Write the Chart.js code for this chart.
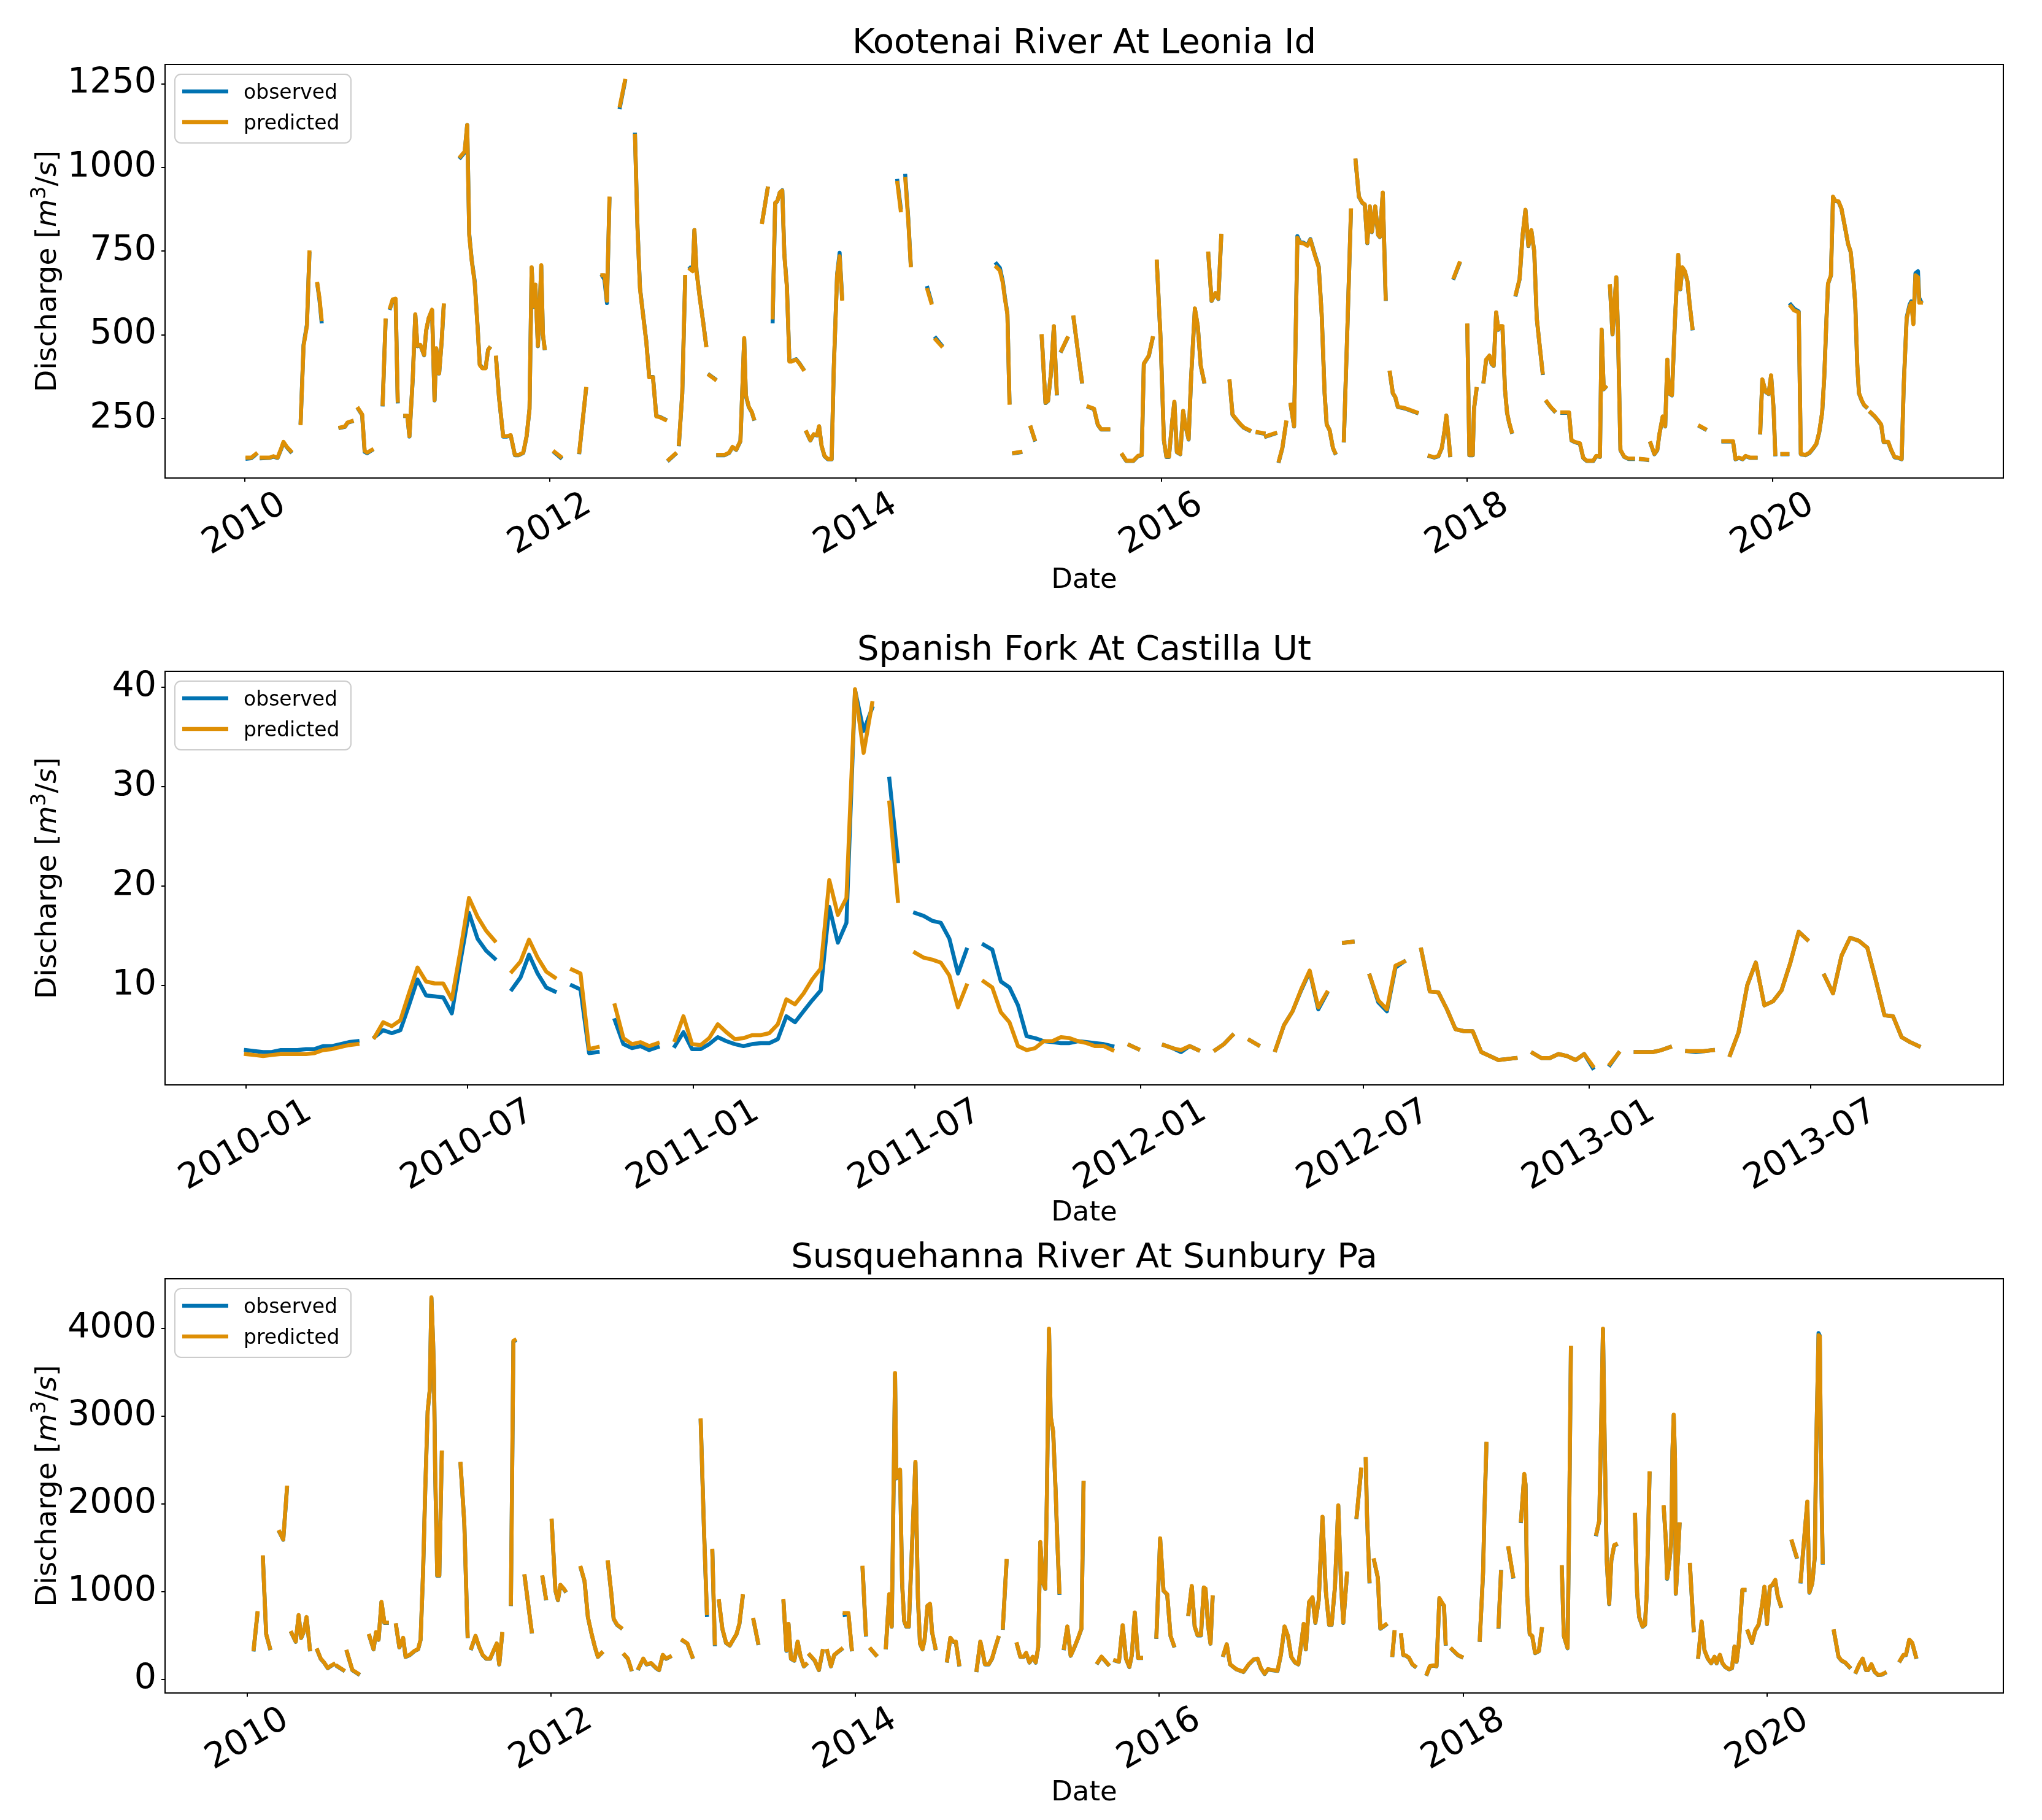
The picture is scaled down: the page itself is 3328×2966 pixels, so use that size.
<!DOCTYPE html>
<html>
<head>
<meta charset="utf-8">
<title>Discharge: observed vs predicted</title>
<script src="https://cdn.jsdelivr.net/npm/chart.js@4.4.0/dist/chart.umd.min.js"></script>
<style>
  body { margin: 0; background: #fff; width: 3328px; height: 2966px; position: relative; overflow: hidden; }
  canvas { position: absolute; left: 0; }
</style>
</head>
<body>
<canvas id="kootenai"></canvas>
<canvas id="spanish"></canvas>
<canvas id="susquehanna"></canvas>
<script>
// ---- shared labels ----
const seriesNames = ['observed', 'predicted'];
const seriesColors = ['#0173b2', '#de8f05'];
const xAxisLabel = 'Date';
const yAxisLabelParts = ['Discharge [', 'm', '3', '/', 's', ']'];

// ---- Kootenai River At Leonia Id ----
const kootTitle = 'Kootenai River At Leonia Id';
const kootDates = [
  '2010-01-08','2010-01-17','2010-01-23','2010-01-28',null,
  '2010-02-11','2010-03-02','2010-03-11','2010-03-21','2010-03-30','2010-04-04','2010-04-12','2010-04-21',null,
  '2010-05-15','2010-05-22','2010-05-30','2010-06-05',null,
  '2010-06-24','2010-06-29','2010-07-04',null,
  '2010-08-18','2010-08-29','2010-09-04','2010-09-14',null,
  '2010-09-30','2010-10-09','2010-10-15','2010-10-21','2010-11-01',null,
  '2010-11-27','2010-12-04',null,
  '2010-12-15','2010-12-21','2010-12-28','2011-01-02',null,
  '2011-01-20','2011-01-25','2011-01-30','2011-02-07','2011-02-13','2011-02-18','2011-02-25','2011-03-06','2011-03-11','2011-03-17','2011-03-25','2011-03-31','2011-04-04','2011-04-11','2011-04-17','2011-04-22',null,
  '2011-06-01','2011-06-11','2011-06-17','2011-06-22','2011-06-28','2011-07-05','2011-07-12','2011-07-17','2011-07-23','2011-07-31','2011-08-06','2011-08-09',null,
  '2011-08-25','2011-09-01','2011-09-11','2011-09-20','2011-09-29','2011-10-09','2011-10-18','2011-10-29','2011-11-06','2011-11-13','2011-11-18','2011-11-23','2011-11-27','2011-12-03','2011-12-07','2011-12-11','2011-12-15','2011-12-19',null,
  '2012-01-12','2012-01-26',null,
  '2012-03-11','2012-03-27',null,
  '2012-05-05','2012-05-10','2012-05-16','2012-05-22',null,
  '2012-06-16','2012-06-28',null,
  '2012-07-22','2012-07-28','2012-08-03','2012-08-09','2012-08-18','2012-08-25','2012-09-03','2012-09-11','2012-09-19','2012-10-02',null,
  '2012-10-11','2012-10-26',null,
  '2012-11-04','2012-11-12','2012-11-19',null,
  '2012-12-01','2012-12-07','2012-12-11','2012-12-16','2012-12-24','2013-01-01','2013-01-08',null,
  '2013-01-16','2013-01-29',null,
  '2013-02-06','2013-02-21','2013-03-04','2013-03-12','2013-03-21','2013-03-31','2013-04-09','2013-04-13','2013-04-20','2013-04-27','2013-05-02',null,
  '2013-05-22','2013-06-04',null,
  '2013-06-16','2013-06-22','2013-06-27','2013-07-03','2013-07-09','2013-07-14','2013-07-20','2013-07-26','2013-07-31','2013-08-11','2013-08-19','2013-08-28',null,
  '2013-09-05','2013-09-14','2013-09-22','2013-09-30','2013-10-05','2013-10-11','2013-10-18','2013-10-26','2013-11-04','2013-11-09','2013-11-17','2013-11-23','2013-11-29',null,
  '2014-04-10','2014-04-18',null,
  '2014-04-29','2014-05-06','2014-05-12',null,
  '2014-06-21','2014-06-30',null,
  '2014-07-11','2014-07-24',null,
  '2014-12-03','2014-12-11','2014-12-18','2014-12-23','2014-12-29','2015-01-03',null,
  '2015-01-14','2015-01-29',null,
  '2015-02-23','2015-03-04',null,
  '2015-03-21','2015-03-30','2015-04-05','2015-04-12','2015-04-19','2015-04-26',null,
  '2015-05-07','2015-05-21',null,
  '2015-06-05','2015-06-15','2015-06-25',null,
  '2015-07-11','2015-07-24','2015-08-02','2015-08-10','2015-08-27',null,
  '2015-09-30','2015-10-09','2015-10-26','2015-11-06','2015-11-15','2015-11-20','2015-11-26','2015-12-02','2015-12-11',null,
  '2015-12-21','2015-12-30','2016-01-07','2016-01-13','2016-01-19','2016-01-27','2016-02-01','2016-02-07','2016-02-15','2016-02-22','2016-02-27','2016-03-06','2016-03-12','2016-03-21','2016-03-28','2016-04-04','2016-04-12',null,
  '2016-04-22','2016-04-30','2016-05-09','2016-05-16','2016-05-23',null,
  '2016-06-12','2016-06-19','2016-06-29','2016-07-07','2016-07-16','2016-07-29',null,
  '2016-08-18','2016-09-01',null,
  '2016-09-07','2016-09-29',null,
  '2016-10-08','2016-10-16','2016-10-25',null,
  '2016-11-05','2016-11-13','2016-11-21','2016-11-27','2016-12-06','2016-12-15','2016-12-22','2017-01-02','2017-01-11','2017-01-18','2017-01-25','2017-01-30','2017-02-06','2017-02-14','2017-02-19',null,
  '2017-03-12','2017-03-20','2017-03-29',null,
  '2017-04-09','2017-04-17','2017-04-25','2017-05-01','2017-05-07','2017-05-13','2017-05-18','2017-05-26','2017-06-02','2017-06-06','2017-06-13','2017-06-20',null,
  '2017-06-30','2017-07-07','2017-07-13','2017-07-19','2017-08-01','2017-08-09','2017-08-22','2017-09-02',null,
  '2017-10-03','2017-10-14','2017-10-24','2017-11-01','2017-11-07','2017-11-12','2017-11-17','2017-11-21',null,
  '2017-11-30','2017-12-13',null,
  '2018-01-01','2018-01-06','2018-01-14','2018-01-17','2018-01-23',null,
  '2018-02-09','2018-02-15','2018-02-23','2018-02-28','2018-03-05','2018-03-11','2018-03-16','2018-03-21','2018-03-26','2018-04-01','2018-04-06','2018-04-11','2018-04-17',null,
  '2018-04-27','2018-05-06','2018-05-13','2018-05-20','2018-05-27','2018-06-03','2018-06-10','2018-06-16','2018-06-22','2018-06-30',null,
  '2018-07-10','2018-07-19','2018-07-28',null,
  '2018-08-16','2018-09-01','2018-09-07','2018-09-15','2018-09-27','2018-10-05','2018-10-13','2018-10-29','2018-11-05','2018-11-14','2018-11-18','2018-11-23','2018-11-27',null,
  '2018-12-08','2018-12-14','2018-12-23','2018-12-27','2019-01-02','2019-01-11','2019-01-21','2019-02-01',null,
  '2019-02-20','2019-03-07',null,
  '2019-03-15','2019-03-24','2019-03-31','2019-04-05','2019-04-13','2019-04-19','2019-04-24','2019-04-28','2019-05-05','2019-05-12','2019-05-20','2019-05-25','2019-05-30','2019-06-05','2019-06-11','2019-06-16','2019-06-23',null,
  '2019-07-11','2019-07-23',null,
  '2019-09-05','2019-09-28','2019-10-04','2019-10-12','2019-10-21','2019-10-28','2019-11-08','2019-11-21',null,
  '2019-12-02','2019-12-07','2019-12-15','2019-12-22','2019-12-28','2020-01-03','2020-01-07',null,
  '2020-01-24','2020-02-05',null,
  '2020-02-13','2020-02-21','2020-03-03','2020-03-08','2020-03-19','2020-03-29','2020-04-07','2020-04-14','2020-04-21','2020-04-28','2020-05-03','2020-05-08','2020-05-12','2020-05-19','2020-05-24','2020-05-29','2020-06-06','2020-06-13','2020-06-22','2020-06-29','2020-07-05','2020-07-11','2020-07-16','2020-07-21','2020-07-25','2020-08-01','2020-08-06','2020-08-11',null,
  '2020-08-22','2020-09-01','2020-09-09','2020-09-16','2020-09-22','2020-10-03','2020-10-10','2020-10-18','2020-10-26','2020-11-04','2020-11-09','2020-11-16','2020-11-23','2020-11-27','2020-12-02','2020-12-07','2020-12-13','2020-12-16','2020-12-20'
];
const kootPredicted = [
  133,133,139,144,null,
  133,133,137,133,162,180,165,153,null,
  236,467,526,746,null,
  652,610,547,null,
  223,226,238,242,null,
  279,262,153,148,156,null,
  293,543,null,
  582,606,608,303,null,
  258,258,197,372,561,467,470,440,514,550,575,305,460,385,480,588,null,
  1033,1048,1127,796,720,655,520,410,400,400,455,460,null,
  432,315,197,197,200,141,141,148,197,279,702,585,650,467,570,708,502,461,null,
  150,136,null,
  150,338,null,
  678,678,602,907,null,
  1185,1259,null,
  1095,820,637,573,479,373,373,256,254,246,null,
  127,144,null,
  174,326,673,null,
  696,690,813,690,608,537,469,null,
  379,367,null,
  141,141,148,165,157,183,490,320,285,270,250,null,
  837,937,null,
  552,895,899,925,931,737,643,420,420,426,414,397,null,
  209,185,203,200,227,168,138,129,129,397,678,735,608,null,
  954,872,null,
  966,843,708,null,
  634,596,null,
  485,467,null,
  702,692,655,608,561,297,null,
  147,150,null,
  223,188,null,
  496,297,303,385,526,326,null,
  453,490,null,
  552,455,361,null,
  285,279,232,218,218,null,
  141,124,124,138,141,414,426,438,490,null,
  719,490,185,136,136,244,300,150,144,273,232,188,373,579,526,408,361,null,
  743,602,625,608,796,null,
  361,262,246,234,223,215,null,
  209,206,null,
  197,206,null,
  124,162,238,null,
  291,227,790,775,773,766,784,737,702,561,326,232,215,162,148,null,
  185,502,872,null,
  1021,913,895,890,775,884,808,884,799,793,925,608,null,
  387,326,314,285,282,279,273,268,null,
  138,134,138,162,209,259,197,141,null,
  672,714,null,
  528,141,141,279,338,null,
  361,426,438,414,408,567,516,526,526,338,268,238,211,null,
  622,667,796,874,766,813,749,550,479,387,null,
  300,285,273,null,
  268,268,185,180,176,133,124,124,138,136,516,338,344,null,
  645,502,672,514,156,136,130,130,null,
  129,127,null,
  176,144,156,203,256,227,426,326,320,537,739,637,702,690,661,596,520,null,
  227,219,null,
  182,182,129,133,129,138,133,133,null,
  209,367,330,324,379,279,144,null,
  144,144,null,
  585,573,567,144,141,148,162,174,209,268,373,537,653,678,913,901,899,878,819,772,749,678,596,408,326,303,291,285,null,
  268,256,244,232,180,180,156,135,133,129,350,549,585,596,532,678,672,596,596
];
const kootObserved = [
  130,131,137,143,null,
  131,132,136,132,160,178,164,151,null,
  238,470,530,742,null,
  650,605,540,null,
  222,225,237,241,null,
  278,260,150,146,155,null,
  292,541,null,
  580,603,606,301,null,
  257,257,196,370,560,466,469,439,512,549,574,304,459,384,479,586,null,
  1030,1045,1127,800,722,660,522,412,401,401,455,460,null,
  431,314,196,196,199,140,140,147,196,278,700,583,649,466,569,706,500,460,null,
  148,133,null,
  149,337,null,
  676,665,595,905,null,
  1180,1256,null,
  1098,822,640,575,481,374,374,257,255,247,null,
  126,143,null,
  173,325,672,null,
  700,693,813,692,610,538,470,null,
  380,368,null,
  140,140,147,164,156,182,488,318,284,269,249,null,
  838,937,null,
  540,893,899,925,932,740,646,422,421,427,415,398,null,
  208,184,202,199,226,167,137,128,128,396,680,745,610,null,
  960,880,null,
  975,848,710,null,
  640,600,null,
  490,470,null,
  712,700,660,612,563,298,null,
  146,149,null,
  222,187,null,
  495,296,302,384,525,325,null,
  452,489,null,
  551,454,360,null,
  284,278,231,217,217,null,
  140,123,123,137,140,413,425,437,489,null,
  717,489,184,135,135,243,299,149,143,272,231,187,372,578,525,407,360,null,
  742,601,624,607,795,null,
  360,261,245,233,222,214,null,
  208,205,null,
  196,205,null,
  123,161,237,null,
  290,226,795,778,775,768,786,739,704,562,326,232,215,161,147,null,
  184,501,871,null,
  1020,912,894,889,774,883,807,883,798,792,924,607,null,
  386,325,313,284,281,278,272,267,null,
  137,133,137,161,208,258,196,140,null,
  670,712,null,
  527,140,140,278,337,null,
  360,425,437,413,407,566,515,525,525,337,267,237,210,null,
  620,666,795,873,765,812,748,549,478,386,null,
  299,284,272,null,
  267,267,184,179,175,132,123,123,137,135,515,337,343,null,
  644,501,671,513,155,135,129,129,null,
  128,126,null,
  175,143,155,202,255,226,425,325,319,536,738,636,701,689,660,595,519,null,
  226,218,null,
  181,181,128,132,128,137,132,132,null,
  208,366,329,323,378,278,143,null,
  143,143,null,
  590,578,570,143,140,147,161,173,208,267,372,536,652,677,912,900,898,877,818,771,748,677,595,407,325,302,290,284,null,
  267,255,243,231,179,179,155,134,132,128,352,552,590,600,535,684,690,610,600
];
const kootXTicks = ['2010', '2012', '2014', '2016', '2018', '2020'];
const kootYTicks = [250, 500, 750, 1000, 1250];
const kootXRange = ['2009-06-25', '2021-07-05'];
const kootYRange = [72, 1308];

// ---- Spanish Fork At Castilla Ut (weekly) ----
const spanTitle = 'Spanish Fork At Castilla Ut';
const spanDates = [
  '2010-01-01','2010-01-08','2010-01-15','2010-01-22','2010-01-29','2010-02-05','2010-02-12','2010-02-19','2010-02-26','2010-03-05',
  '2010-03-12','2010-03-19','2010-03-26','2010-04-02','2010-04-09','2010-04-16','2010-04-23','2010-04-30','2010-05-07','2010-05-14',
  '2010-05-21','2010-05-28','2010-06-04','2010-06-11','2010-06-18','2010-06-25','2010-07-02','2010-07-09','2010-07-16','2010-07-23',
  '2010-07-30','2010-08-06','2010-08-13','2010-08-20','2010-08-27','2010-09-03','2010-09-10','2010-09-17','2010-09-24','2010-10-01',
  '2010-10-08','2010-10-15','2010-10-22','2010-10-29','2010-11-05','2010-11-12','2010-11-19','2010-11-26','2010-12-03','2010-12-10',
  '2010-12-17','2010-12-24','2010-12-31','2011-01-07','2011-01-14','2011-01-21','2011-01-28','2011-02-04','2011-02-11','2011-02-18',
  '2011-02-25','2011-03-04','2011-03-11','2011-03-18','2011-03-25','2011-04-01','2011-04-08','2011-04-15','2011-04-22','2011-04-29',
  '2011-05-06','2011-05-13','2011-05-20','2011-05-27','2011-06-03','2011-06-10','2011-06-17','2011-06-24','2011-07-01','2011-07-08',
  '2011-07-15','2011-07-22','2011-07-29','2011-08-05','2011-08-12','2011-08-19','2011-08-26','2011-09-02','2011-09-09','2011-09-16',
  '2011-09-23','2011-09-30','2011-10-07','2011-10-14','2011-10-21','2011-10-28','2011-11-04','2011-11-11','2011-11-18','2011-11-25',
  '2011-12-02','2011-12-09','2011-12-16','2011-12-23','2011-12-30','2012-01-06','2012-01-13','2012-01-20','2012-01-27','2012-02-03',
  '2012-02-10','2012-02-17','2012-02-24','2012-03-02','2012-03-09','2012-03-16','2012-03-23','2012-03-30','2012-04-06','2012-04-13',
  '2012-04-20','2012-04-27','2012-05-04','2012-05-11','2012-05-18','2012-05-25','2012-06-01','2012-06-08','2012-06-15','2012-06-22',
  '2012-06-29','2012-07-06','2012-07-13','2012-07-20','2012-07-27','2012-08-03','2012-08-10','2012-08-17','2012-08-24','2012-08-31',
  '2012-09-07','2012-09-14','2012-09-21','2012-09-28','2012-10-05','2012-10-12','2012-10-19','2012-10-26','2012-11-02','2012-11-09',
  '2012-11-16','2012-11-23','2012-11-30','2012-12-07','2012-12-14','2012-12-21','2012-12-28','2013-01-04','2013-01-11','2013-01-18',
  '2013-01-25','2013-02-01','2013-02-08','2013-02-15','2013-02-22','2013-03-01','2013-03-08','2013-03-15','2013-03-22','2013-03-29',
  '2013-04-05','2013-04-12','2013-04-19','2013-04-26','2013-05-03','2013-05-10','2013-05-17','2013-05-24','2013-05-31','2013-06-07',
  '2013-06-14','2013-06-21','2013-06-28','2013-07-05','2013-07-12','2013-07-19','2013-07-26','2013-08-02','2013-08-09','2013-08-16',
  '2013-08-23','2013-08-30','2013-09-06','2013-09-13','2013-09-20','2013-09-27'
];
const spanObserved = [
  3.5, 3.4, 3.3, 3.3, 3.5, 3.5, 3.5, 3.6, 3.6, 3.9,
  3.9, 4.1, 4.3, 4.4, null, 4.8, 5.5, 5.2, 5.5, 8.0,
  10.6, 9.0, 8.9, 8.8, 7.2, 12.4, 17.3, 14.7, 13.5, 12.7,
  null, 9.6, 10.8, 13.1, 11.2, 9.8, 9.4, null, 10.0, 9.6,
  3.2, 3.3, null, 6.5, 4.1, 3.7, 3.9, 3.5, 3.8, null,
  3.9, 5.3, 3.6, 3.6, 4.1, 4.8, 4.4, 4.1, 3.9, 4.1,
  4.2, 4.2, 4.6, 6.9, 6.3, 7.4, 8.5, 9.5, 17.9, 14.3,
  16.3, 39.7, 35.6, 37.9, null, 30.8, 22.5, null, 17.3, 17.0,
  16.5, 16.3, 14.7, 11.2, 13.6, null, 14.1, 13.6, 10.4, 9.8,
  8.0, 4.9, 4.7, 4.4, 4.3, 4.2, 4.2, 4.4, 4.3, 4.2,
  4.1, 3.9, null, 4.0, 3.6, null, null, 4.0, 3.7, 3.3,
  3.9, 3.5, null, 3.5, 4.1, 5.0, null, 4.5, 4.0, null,
  3.5, 6.0, 7.4, 9.5, 11.4, 7.6, 9.2, null, 14.3, 14.4,
  null, 11.0, 8.3, 7.4, 11.8, 12.4, null, 13.6, 9.4, 9.3,
  7.6, 5.6, 5.4, 5.4, 3.3, 2.9, 2.5, 2.6, 2.7, null,
  3.2, 2.7, 2.7, 3.1, 2.9, 2.5, 3.1, 1.7, null, 2.0,
  3.2, null, 3.3, 3.3, 3.3, 3.5, 3.8, null, 3.4, 3.3,
  3.4, 3.5, null, 3.0, 5.3, 10.0, 12.3, 8.0, 8.4, 9.5,
  12.2, 15.4, 14.6, null, 11.0, 9.2, 13.0, 14.8, 14.5, 13.8,
  10.5, 7.0, 6.9, 4.8, 4.3, 3.9
];
const spanPredicted = [
  3.1, 3.0, 2.9, 3.0, 3.1, 3.1, 3.1, 3.1, 3.2, 3.5,
  3.6, 3.8, 4.0, 4.1, null, 4.8, 6.3, 5.9, 6.5, 9.2,
  11.8, 10.4, 10.2, 10.2, 8.6, 13.5, 18.8, 16.9, 15.5, 14.5,
  null, 11.4, 12.4, 14.6, 12.8, 11.4, 10.8, null, 11.6, 11.2,
  3.6, 3.8, null, 8.0, 4.7, 4.1, 4.3, 3.9, 4.2, null,
  4.5, 6.9, 4.1, 4.0, 4.7, 6.1, 5.3, 4.6, 4.7, 5.0,
  5.0, 5.2, 6.1, 8.6, 8.1, 9.2, 10.6, 11.7, 20.6, 17.1,
  18.8, 39.8, 33.4, 38.4, null, 28.4, 18.5, null, 13.3, 12.8,
  12.6, 12.3, 11.0, 7.8, 10.0, null, 10.4, 9.8, 7.3, 6.3,
  3.9, 3.5, 3.7, 4.4, 4.4, 4.8, 4.7, 4.4, 4.2, 3.9,
  3.9, 3.5, null, 4.0, 3.6, null, null, 4.0, 3.7, 3.5,
  3.9, 3.5, null, 3.5, 4.1, 5.0, null, 4.5, 4.0, null,
  3.5, 6.0, 7.4, 9.6, 11.5, 7.8, 9.3, null, 14.3, 14.4,
  null, 11.0, 8.5, 7.6, 12.0, 12.4, null, 13.6, 9.4, 9.3,
  7.6, 5.6, 5.4, 5.4, 3.3, 2.9, 2.5, 2.6, 2.7, null,
  3.2, 2.7, 2.7, 3.1, 2.9, 2.5, 3.1, 1.9, null, 2.1,
  3.2, null, 3.3, 3.3, 3.3, 3.5, 3.8, null, 3.4, 3.4,
  3.4, 3.5, null, 3.0, 5.3, 10.0, 12.3, 8.0, 8.4, 9.5,
  12.2, 15.4, 14.6, null, 11.0, 9.2, 13.0, 14.8, 14.5, 13.8,
  10.5, 7.0, 6.9, 4.8, 4.3, 3.9
];
const spanXTicks = ['2010-01', '2010-07', '2011-01', '2011-07', '2012-01', '2012-07', '2013-01', '2013-07'];
const spanYTicks = [10, 20, 30, 40];
const spanXRange = ['2009-10-27', '2013-12-05'];
const spanYRange = [0, 41.6];

// ---- Susquehanna River At Sunbury Pa ----
const susqTitle = 'Susquehanna River At Sunbury Pa';
const susqDates = [
  '2010-01-16','2010-01-25',null,
  '2010-02-07','2010-02-15','2010-02-24',null,
  '2010-03-19','2010-03-28','2010-04-06',null,
  '2010-04-17','2010-04-27','2010-05-04','2010-05-10','2010-05-16','2010-05-23','2010-05-31',null,
  '2010-06-18','2010-06-26','2010-07-04','2010-07-13','2010-07-19','2010-07-27',null,
  '2010-08-05','2010-08-19',null,
  '2010-08-28','2010-09-10','2010-09-24',null,
  '2010-10-21','2010-10-31','2010-11-06','2010-11-12','2010-11-19','2010-11-26','2010-12-02',null,
  '2010-12-24','2011-01-01','2011-01-10','2011-01-16','2011-01-26','2011-02-06','2011-02-15','2011-02-21','2011-02-27','2011-03-04','2011-03-10','2011-03-15','2011-03-19','2011-03-23','2011-03-25','2011-03-28','2011-04-02','2011-04-07','2011-04-13',null,
  '2011-05-28','2011-06-06','2011-06-14',null,
  '2011-06-23','2011-07-03','2011-07-12','2011-07-20','2011-07-29','2011-08-07','2011-08-15','2011-08-23','2011-08-29','2011-09-05',null,
  '2011-09-26','2011-10-02','2011-10-05',null,
  '2011-10-29','2011-11-07','2011-11-15',null,
  '2011-12-11','2011-12-19',null,
  '2012-01-02','2012-01-11','2012-01-17','2012-01-23','2012-01-31','2012-02-03',null,
  '2012-03-12','2012-03-21','2012-03-29','2012-04-07','2012-04-15','2012-04-22','2012-05-01',null,
  '2012-05-16','2012-05-24','2012-05-30','2012-06-07','2012-06-16',null,
  '2012-06-25','2012-07-03','2012-07-11',null,
  '2012-07-29','2012-08-09','2012-08-17','2012-08-28','2012-09-09','2012-09-16','2012-09-25','2012-10-03','2012-10-12',null,
  '2012-11-12','2012-11-23','2012-12-05',null,
  '2012-12-25','2013-01-02','2013-01-09',null,
  '2013-01-22','2013-01-28',null,
  '2013-02-07','2013-02-15','2013-02-24','2013-03-05','2013-03-13','2013-03-21','2013-03-28','2013-04-05',null,
  '2013-05-01','2013-05-12',null,
  '2013-07-12','2013-07-19','2013-07-24','2013-07-30','2013-08-07','2013-08-15','2013-08-22','2013-08-30','2013-09-04',null,
  '2013-09-13','2013-09-25','2013-10-05','2013-10-14',null,
  '2013-10-25','2013-11-03','2013-11-11','2013-11-20','2013-11-28',null,
  '2013-12-06','2013-12-15','2013-12-23',null,
  '2014-01-18','2014-01-26',null,
  '2014-02-07','2014-02-19',null,
  '2014-03-15','2014-03-23','2014-03-29','2014-04-03','2014-04-06','2014-04-09','2014-04-14','2014-04-18','2014-04-23','2014-04-28','2014-05-03','2014-05-09','2014-05-18','2014-05-25','2014-05-31','2014-06-05','2014-06-11','2014-06-16','2014-06-23','2014-06-29','2014-07-04','2014-07-12',null,
  '2014-08-09','2014-08-17','2014-08-24','2014-08-30','2014-09-07',null,
  '2014-10-19','2014-10-28','2014-11-02','2014-11-08','2014-11-17','2014-11-25','2014-12-03','2014-12-10',null,
  '2014-12-21','2014-12-30',null,
  '2015-01-24','2015-02-01','2015-02-09','2015-02-15','2015-02-23','2015-03-03','2015-03-10','2015-03-16','2015-03-21','2015-03-27','2015-04-02','2015-04-06','2015-04-11','2015-04-15','2015-04-21','2015-04-27','2015-05-01','2015-05-06',null,
  '2015-05-17','2015-05-25','2015-06-02','2015-06-11','2015-06-20','2015-06-28','2015-07-03',null,
  '2015-08-06','2015-08-15','2015-08-23','2015-08-31',null,
  '2015-09-17','2015-09-26','2015-10-05','2015-10-13','2015-10-21','2015-10-27','2015-11-03','2015-11-11','2015-11-18',null,
  '2015-12-25','2016-01-03','2016-01-11','2016-01-20','2016-01-28','2016-02-05',null,
  '2016-03-11','2016-03-19','2016-03-26','2016-04-02','2016-04-10','2016-04-17','2016-04-21','2016-04-27','2016-05-03','2016-05-08',null,
  '2016-06-03','2016-06-11','2016-06-19','2016-07-04','2016-07-21','2016-08-03','2016-08-15','2016-08-24','2016-09-01','2016-09-10','2016-09-18','2016-09-27','2016-10-11','2016-10-19','2016-10-28','2016-11-05','2016-11-13','2016-11-22','2016-11-30','2016-12-07','2016-12-13','2016-12-18','2016-12-26','2017-01-03','2017-01-10','2017-01-18','2017-01-27','2017-02-04','2017-02-12','2017-02-18','2017-02-26','2017-03-06','2017-03-13','2017-03-18','2017-03-27',null,
  '2017-04-19','2017-04-30',null,
  '2017-05-11','2017-05-14','2017-05-20',null,
  '2017-05-31','2017-06-09','2017-06-15','2017-06-22','2017-06-28',null,
  '2017-07-14','2017-07-19',null,
  '2017-08-04','2017-08-09','2017-08-16','2017-08-23','2017-08-31','2017-09-06',null,
  '2017-10-05','2017-10-12','2017-10-21','2017-10-28','2017-11-04','2017-11-09','2017-11-15','2017-11-19',null,
  '2017-12-04','2017-12-18','2017-12-27',null,
  '2018-02-09','2018-02-17','2018-02-20','2018-02-25',null,
  '2018-03-26','2018-04-01',null,
  '2018-04-19','2018-04-30',null,
  '2018-05-19','2018-05-27','2018-05-30','2018-06-03','2018-06-09','2018-06-15','2018-06-22','2018-07-01','2018-07-08',null,
  '2018-08-25','2018-08-30','2018-09-08','2018-09-12','2018-09-16',null,
  '2018-11-16','2018-11-23','2018-11-28','2018-12-02','2018-12-06','2018-12-11','2018-12-17','2018-12-22','2018-12-29','2019-01-02',null,
  '2019-02-17','2019-02-22','2019-02-27','2019-03-07','2019-03-13','2019-03-17','2019-03-24',null,
  '2019-04-27','2019-05-02','2019-05-05','2019-05-09','2019-05-15','2019-05-18','2019-05-21','2019-05-24','2019-05-26','2019-05-31','2019-06-04',null,
  '2019-06-29','2019-07-08',null,
  '2019-07-19','2019-07-27','2019-08-03','2019-08-11','2019-08-19','2019-08-27','2019-09-01','2019-09-09','2019-09-15','2019-09-22','2019-10-01','2019-10-08','2019-10-14','2019-10-19','2019-10-24','2019-11-02','2019-11-07',null,
  '2019-11-15','2019-11-25','2019-12-03','2019-12-11','2019-12-19','2019-12-25','2019-12-31','2020-01-07','2020-01-13','2020-01-20','2020-01-26','2020-02-02',null,
  '2020-02-29','2020-03-11',null,
  '2020-03-21','2020-03-30','2020-04-06','2020-04-11','2020-04-18','2020-04-24','2020-04-27','2020-05-03','2020-05-06','2020-05-09','2020-05-13',null,
  '2020-06-09','2020-06-20','2020-06-27','2020-07-06','2020-07-16',null,
  '2020-08-01','2020-08-09','2020-08-17','2020-08-25','2020-08-30','2020-09-07','2020-09-15','2020-09-23','2020-10-02','2020-10-09',null,
  '2020-11-15','2020-11-23','2020-11-29','2020-12-07','2020-12-14','2020-12-23'
];
const susqPredicted = [
  349,759,null,
  1396,521,362,null,
  1685,1599,2189,null,
  534,435,737,478,543,715,349,null,
  336,241,198,134,155,177,null,
  155,112,null,
  319,112,69,null,
  500,349,543,457,888,651,651,null,
  621,371,478,263,284,328,349,457,1233,2138,3064,3301,4357,3862,3517,2396,1190,1190,2590,null,
  2461,1793,500,null,
  362,500,371,284,241,241,328,414,177,521,null,
  866,3862,3870,null,
  1181,845,552,null,
  1168,931,null,
  1814,1017,909,1082,1039,1017,null,
  1276,1125,715,521,371,263,306,null,
  1340,996,694,629,595,null,
  284,241,121,null,
  134,241,177,190,134,112,284,241,263,null,
  448,414,263,null,
  2957,1707,759,null,
  1470,414,null,
  896,586,422,392,457,521,638,952,null,
  681,422,null,
  896,336,638,241,220,435,263,155,177,null,
  284,220,112,328,null,
  328,155,284,319,349,null,
  759,759,349,null,
  1276,521,null,
  349,284,null,
  371,974,608,2353,3495,2300,2330,2396,1103,672,608,608,1664,2483,931,414,349,457,845,866,543,362,null,
  220,478,435,435,177,null,
  112,435,328,177,177,241,371,478,null,
  595,1353,null,
  405,263,263,306,198,263,198,371,1569,1112,1039,2138,4000,3000,2827,2138,1577,996,null,
  362,608,276,371,478,586,2246,null,
  198,263,220,177,null,
  220,207,621,241,147,284,767,250,250,null,
  491,1612,1017,974,500,392,null,
  750,1069,608,509,509,1052,1039,629,414,940,null,
  284,405,177,121,91,177,233,241,134,69,121,112,103,284,608,500,263,198,177,414,638,349,888,940,651,909,1858,1017,629,629,1060,1987,1060,651,1211,null,
  1858,2396,null,
  2517,1879,1125,null,
  1362,1168,586,608,629,null,
  284,543,null,
  509,284,276,250,177,155,null,
  69,155,164,155,931,888,845,414,null,
  349,284,263,null,
  457,1233,1879,2689,null,
  608,1224,null,
  1500,1181,null,
  1814,2345,2224,952,521,500,306,328,578,null,
  1284,500,362,1922,3784,null,
  1664,1814,3000,4000,2741,1362,866,1362,1534,1543,null,
  1879,996,715,608,629,974,2353,null,
  1965,1599,1155,1276,1560,2612,3021,2526,983,1383,1771,null,
  1310,565,null,
  263,664,336,241,190,263,190,284,190,147,121,134,379,207,392,1026,1026,null,
  552,422,565,629,845,1060,638,1060,1082,1138,952,845,null,
  1577,1405,null,
  1125,1642,2030,996,1103,1405,2569,3926,3913,2439,1340,null,
  552,263,220,198,147,null,
  91,177,241,112,112,177,91,56,60,78,null,
  220,284,284,457,422,263
];
const susqObserved = [
  345,752,null,
  1390,518,360,null,
  1680,1595,2180,null,
  530,432,733,475,540,712,346,null,
  333,238,195,131,152,174,null,
  152,109,null,
  316,109,66,null,
  497,346,540,454,884,648,648,null,
  618,368,475,260,281,325,346,454,1228,2130,3058,3295,4350,3855,3510,2390,1185,1185,2585,null,
  2455,1788,497,null,
  359,497,368,281,238,238,325,411,174,518,null,
  862,3855,3862,null,
  1176,842,549,null,
  1163,928,null,
  1808,1013,905,1078,1035,1013,null,
  1271,1120,712,518,368,260,303,null,
  1335,992,690,625,592,null,
  281,238,118,null,
  131,238,174,187,131,109,281,238,260,null,
  445,411,260,null,
  2950,1700,740,null,
  1460,405,null,
  890,580,418,389,454,518,634,948,null,
  677,418,null,
  890,330,634,238,217,432,260,152,174,null,
  281,217,109,325,null,
  325,152,281,316,346,null,
  740,745,346,null,
  1270,515,null,
  346,281,null,
  368,970,604,2345,3485,2295,2325,2390,1099,668,604,604,1658,2476,927,411,346,454,841,862,540,359,null,
  217,475,432,432,174,null,
  109,432,325,174,174,238,368,475,null,
  592,1348,null,
  401,260,260,303,195,260,195,368,1564,1108,1035,2130,3990,2995,2820,2132,1572,992,null,
  359,604,273,368,475,582,2240,null,
  195,260,217,174,null,
  217,204,618,238,144,281,763,247,247,null,
  488,1606,1013,970,497,389,null,
  746,1064,604,505,505,1048,1035,625,411,936,null,
  281,402,174,118,88,174,230,238,131,66,118,109,100,281,604,497,260,195,174,411,634,346,884,936,648,905,1852,1013,625,625,1056,1981,1056,648,1206,null,
  1852,2390,null,
  2511,1874,1120,null,
  1357,1163,582,604,625,null,
  281,540,null,
  505,281,273,247,174,152,null,
  66,152,161,152,927,884,841,411,null,
  346,281,260,null,
  454,1228,1874,2683,null,
  604,1228,null,
  1495,1176,null,
  1808,2340,2218,948,518,497,303,325,575,null,
  1279,497,359,1916,3778,null,
  1658,1808,2995,3995,2735,1357,862,1357,1529,1538,null,
  1874,992,712,604,625,970,2347,null,
  1960,1594,1150,1271,1555,2606,3015,2520,979,1378,1766,null,
  1305,562,null,
  260,660,333,238,187,260,187,281,187,144,118,131,376,204,389,1022,1022,null,
  549,418,562,625,841,1056,634,1056,1078,1133,948,841,null,
  1572,1400,null,
  1120,1636,2025,992,1099,1400,2563,3950,3920,2433,1335,null,
  549,260,217,195,144,null,
  88,174,238,109,109,174,88,53,57,75,null,
  217,281,281,454,418,260
];
const susqXTicks = ['2010', '2012', '2014', '2016', '2018', '2020'];
const susqYTicks = [0, 1000, 2000, 3000, 4000];
const susqXRange = ['2009-06-17', '2021-07-21'];
const susqYRange = [-151, 4569];

// ---- rendering ----
const FONT = "'DejaVu Sans', sans-serif";
const PAGE_WIDTH = 3328;
const PLOT_LEFT = 269;
const PLOT_RIGHT = 3265;
const TICK_FONT = 57;
const TITLE_FONT = 56;

Chart.defaults.font.family = FONT;
Chart.defaults.color = '#000';

const toDay = s => Date.parse(s.length === 4 ? s + '-01-01' : s.length === 7 ? s + '-01' : s) / 864e5;

const panels = [
  { id: 'kootenai', title: kootTitle, dates: kootDates, observed: kootObserved, predicted: kootPredicted,
    xTicks: kootXTicks, yTicks: kootYTicks, xRange: kootXRange, yRange: kootYRange,
    top: 0, height: 985, chartTop: 105, chartBottom: 779, dateMid: 946 },
  { id: 'spanish', title: spanTitle, dates: spanDates, observed: spanObserved, predicted: spanPredicted,
    xTicks: spanXTicks, yTicks: spanYTicks, xRange: spanXRange, yRange: spanYRange,
    top: 989, height: 1025, chartTop: 105, chartBottom: 779, dateMid: 988 },
  { id: 'susquehanna', title: susqTitle, dates: susqDates, observed: susqObserved, predicted: susqPredicted,
    xTicks: susqXTicks, yTicks: susqYTicks, xRange: susqXRange, yRange: susqYRange,
    top: 1978, height: 985, chartTop: 106, chartBottom: 781, dateMid: 944 }
];

// matplotlib-style closed frame around the plot area
const framePlugin = {
  id: 'frame',
  afterDatasetsDraw(chart) {
    const { ctx, chartArea: a } = chart;
    ctx.save();
    ctx.strokeStyle = '#000';
    ctx.lineWidth = 2;
    ctx.strokeRect(a.left, a.top, a.right - a.left, a.bottom - a.top);
    ctx.restore();
  }
};

// boxed legend in the upper-left corner of the axes
const legendPlugin = {
  id: 'boxLegend',
  afterDraw(chart) {
    const { ctx, chartArea: a } = chart;
    const x = a.left + 16, y = a.top + 16;
    ctx.save();
    ctx.beginPath();
    ctx.roundRect(x, y, 287, 112, 10);
    ctx.fillStyle = 'rgba(255,255,255,0.8)';
    ctx.fill();
    ctx.lineWidth = 2;
    ctx.strokeStyle = '#cccccc';
    ctx.stroke();
    chart.data.datasets.forEach((ds, i) => {
      const ly = y + 28 + i * 50;
      ctx.beginPath();
      ctx.moveTo(x + 12, ly);
      ctx.lineTo(x + 87, ly);
      ctx.strokeStyle = ds.borderColor;
      ctx.lineWidth = 6.5;
      ctx.stroke();
      ctx.fillStyle = '#000';
      ctx.font = `33px ${FONT}`;
      ctx.textBaseline = 'alphabetic';
      ctx.fillText(ds.label, x + 112, ly + 11.5);
    });
    ctx.restore();
  }
};

// y label with italic m, s and a superscript 3
const yLabelPlugin = {
  id: 'yLabel',
  afterDraw(chart) {
    const { ctx, chartArea: a } = chart;
    const size = 47;
    const fonts = [
      `${size}px ${FONT}`, `italic ${size}px ${FONT}`, `${Math.round(size * 0.7)}px ${FONT}`,
      `${size}px ${FONT}`, `italic ${size}px ${FONT}`, `${size}px ${FONT}`
    ];
    const rise = [0, 0, size * 0.36, 0, 0, 0];
    let total = 0;
    const widths = yAxisLabelParts.map((t, i) => {
      ctx.font = fonts[i];
      const w = ctx.measureText(t).width;
      total += w;
      return w;
    });
    ctx.save();
    ctx.translate(91, (a.top + a.bottom) / 2);
    ctx.rotate(-Math.PI / 2);
    ctx.fillStyle = '#000';
    ctx.textBaseline = 'alphabetic';
    let cx = -total / 2;
    yAxisLabelParts.forEach((t, i) => {
      ctx.font = fonts[i];
      ctx.fillText(t, cx, -rise[i]);
      cx += widths[i];
    });
    ctx.restore();
  }
};

const measureCtx = document.createElement('canvas').getContext('2d');

panels.forEach(p => {
  const canvas = document.getElementById(p.id);
  canvas.width = PAGE_WIDTH;
  canvas.height = p.height;
  canvas.style.top = p.top + 'px';

  measureCtx.font = `${TICK_FONT}px ${FONT}`;
  const labelWidth = measureCtx.measureText(p.xTicks[0]).width;
  const titleHalf = TITLE_FONT * 1.2 / 2;

  const datasets = [p.observed, p.predicted].map((vals, i) => ({
    label: seriesNames[i],
    data: p.dates.map((d, j) => ({ x: d === null ? null : toDay(d), y: vals[j] })),
    borderColor: seriesColors[i],
    backgroundColor: seriesColors[i],
    borderWidth: 6.5,
    borderJoinStyle: 'round',
    borderCapStyle: 'square',
    pointRadius: 0,
    pointHoverRadius: 0,
    tension: 0,
    spanGaps: false,
    fill: false,
    order: 1 - i
  }));

  new Chart(canvas, {
    type: 'line',
    data: { datasets },
    options: {
      responsive: false,
      animation: false,
      devicePixelRatio: 1,
      events: [],
      layout: { padding: { left: 0, right: PAGE_WIDTH - PLOT_RIGHT, top: 0, bottom: 0 } },
      plugins: {
        legend: { display: false },
        tooltip: { enabled: false },
        title: {
          display: true,
          text: p.title,
          fullSize: false,
          color: '#000',
          font: { size: TITLE_FONT, weight: 'normal', family: FONT, lineHeight: 1.2 },
          padding: { top: p.chartTop - 34 - titleHalf, bottom: 34 - titleHalf }
        }
      },
      scales: {
        x: {
          type: 'linear',
          min: toDay(p.xRange[0]),
          max: toDay(p.xRange[1]),
          border: { display: false },
          grid: { drawOnChartArea: false, drawTicks: true, tickLength: 6, color: '#000', lineWidth: 2 },
          ticks: {
            autoSkip: false,
            maxRotation: 30,
            minRotation: 30,
            padding: 4,
            labelOffset: 0.433 * labelWidth,
            font: { size: TICK_FONT, family: FONT },
            color: '#000',
            callback: (v, i) => p.xTicks[i]
          },
          title: {
            display: true,
            text: xAxisLabel,
            color: '#000',
            font: { size: 45, family: FONT, lineHeight: 1.2 },
            padding: { top: 0, bottom: p.height - p.dateMid - 27 }
          },
          afterBuildTicks: scale => { scale.ticks = p.xTicks.map(t => ({ value: toDay(t) })); },
          afterFit: scale => {
            scale.height = p.height - p.chartBottom;
            scale.paddingLeft = 0;
            scale.paddingRight = 0;
          }
        },
        y: {
          type: 'linear',
          min: p.yRange[0],
          max: p.yRange[1],
          border: { display: false },
          grid: { drawOnChartArea: false, drawTicks: true, tickLength: 6, color: '#000', lineWidth: 2 },
          ticks: {
            autoSkip: false,
            padding: 8,
            font: { size: TICK_FONT, family: FONT },
            color: '#000',
            callback: v => String(v)
          },
          afterBuildTicks: scale => { scale.ticks = p.yTicks.map(v => ({ value: v })); },
          afterFit: scale => {
            scale.width = PLOT_LEFT;
            scale.paddingTop = 0;
            scale.paddingBottom = 0;
          }
        }
      }
    },
    plugins: [framePlugin, legendPlugin, yLabelPlugin]
  });
});
</script>
</body>
</html>
